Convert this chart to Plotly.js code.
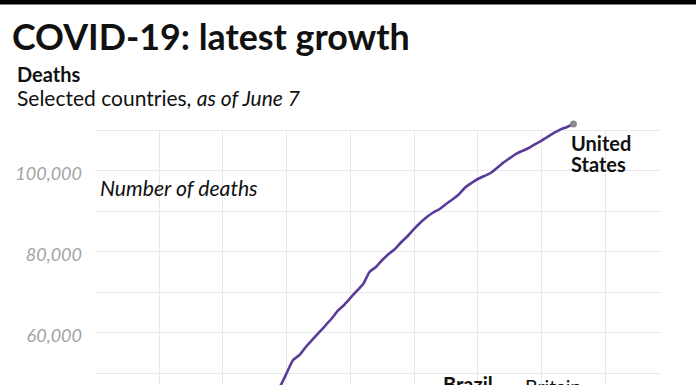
<!DOCTYPE html>
<html><head><meta charset="utf-8">
<script src="https://cdn.plot.ly/plotly-3.0.1.min.js"></script>
<style>html,body{margin:0;padding:0;background:#fff;overflow:hidden}#chart{width:696px;height:385px}</style>
</head><body><div id="chart"></div>
<script>
// ---- data ----
const dates = ["2020-04-21","2020-04-22","2020-04-23","2020-04-24","2020-04-25","2020-04-26","2020-04-27","2020-04-28","2020-04-29","2020-04-30",
 "2020-05-01","2020-05-02","2020-05-03","2020-05-04","2020-05-05","2020-05-06","2020-05-07","2020-05-08","2020-05-09","2020-05-10",
 "2020-05-11","2020-05-12","2020-05-13","2020-05-14","2020-05-15","2020-05-16","2020-05-17","2020-05-18","2020-05-19","2020-05-20",
 "2020-05-21","2020-05-22","2020-05-23","2020-05-24","2020-05-25","2020-05-26","2020-05-27","2020-05-28","2020-05-29","2020-05-30",
 "2020-05-31","2020-06-01","2020-06-02","2020-06-03","2020-06-04","2020-06-05","2020-06-06","2020-06-07"];
const usDeaths = [44600,46790,50000,53210,54440,56420,58150,59880,61600,63330,
 65310,66790,68520,70250,71980,74940,76170,77900,79380,80620,
 82350,83830,85560,87160,88520,89630,90490,91730,92840,94070,
 95800,96910,97900,98640,99380,100620,101950,103040,104120,104840,
 105560,106490,107380,108350,109330,110150,110740,111480];
const yTickVals = [40000,50000,60000,70000,80000,90000,100000,110000];
const yTickText = ["","","60,000","","80,000","","100,000",""];
const seriesLabel = ["United","States"];
const offscreenLabels = ["Brazil","Britain"];

// ---- layout helpers (pixels of the 696x385 page) ----
const L=95, R=660, T=120, GRIDTOP=130, B=385;
const PXPER10K = 40.5;
const yTop = 110000 + (GRIDTOP-T)/PXPER10K*10000;
const yBot = 110000 - (B-GRIDTOP)/PXPER10K*10000;
const px = x => (x-L)/(R-L);
const py = y => (B-y)/(B-T);
const FONT = "Lato, 'Noto Sans', sans-serif";
const GRID = '#e8e8e8';

const traces = [
 {x: dates, y: usDeaths, type:'scatter', mode:'lines',
  line:{color:'#5a3c98', width:2.6, shape:'spline', smoothing:0.6}, hoverinfo:'skip'},
 {x: [dates[dates.length-1]], y:[usDeaths[usDeaths.length-1]], type:'scatter', mode:'markers', cliponaxis:false,
  marker:{color:'#8a8a8a', size:7}, hoverinfo:'skip'}
];

const ann = [
 {text:'COVID-19: latest growth', x:px(11), y:py(36), xanchor:'left', yanchor:'middle', font:{family:FONT, size:35.8, color:'#111', weight:700}},
 {text:'Deaths', x:px(16), y:py(74), xanchor:'left', yanchor:'middle', font:{family:FONT, size:20, color:'#111', weight:700}},
 {text:'Selected countries, <i>as of June 7</i>', x:px(16), y:py(97.5), xanchor:'left', yanchor:'middle', font:{family:FONT, size:21, color:'#111'}},
 {text:'Number of deaths', x:px(99), y:py(187.5), xanchor:'left', yanchor:'middle', font:{family:FONT, size:21.2, color:'#111', style:'italic'}},
 {text:seriesLabel[0], x:px(570), y:py(142.5), xanchor:'left', yanchor:'middle', font:{family:FONT, size:20, color:'#111', weight:700}},
 {text:seriesLabel[1], x:px(570), y:py(164), xanchor:'left', yanchor:'middle', font:{family:FONT, size:20, color:'#111', weight:700}},
 {text:offscreenLabels[0], x:px(442), y:py(383.5), xanchor:'left', yanchor:'middle', font:{family:FONT, size:20, color:'#111', weight:700}},
 {text:offscreenLabels[1], x:px(524), y:py(386.5), xanchor:'left', yanchor:'middle', font:{family:FONT, size:19.5, color:'#111'}}
].map(a => Object.assign({xref:'paper', yref:'paper', showarrow:false, borderpad:0}, a));

const layout = {
 width:696, height:385,
 margin:{l:L, r:696-R, t:T, b:0, pad:0},
 paper_bgcolor:'#fff', plot_bgcolor:'#fff',
 showlegend:false,
 // vertical grid drawn as long inside ticks so it stops at the 110,000 line
 xaxis:{type:'date', range:['2020-03-23 22:00','2020-06-20 14:00'], tick0:'2020-03-24', dtick:864000000,
  showgrid:false, zeroline:false, showline:false, showticklabels:false,
  ticks:'inside', ticklen:B-GRIDTOP, tickwidth:1, tickcolor:GRID, layer:'below traces'},
 yaxis:{range:[yBot, yTop], tickvals:yTickVals, ticktext:yTickText,
  showgrid:true, gridcolor:GRID, gridwidth:1, zeroline:false, showline:false, ticks:'',
  ticklabelstandoff:12, ticklabelshift:3,
  tickfont:{family:FONT, size:18, color:'#a3a3a3', style:'italic'}},
 shapes:[
  {type:'rect', xref:'paper', yref:'paper', x0:px(0), x1:px(696), y0:py(4.5), y1:py(0), fillcolor:'#000', line:{width:0}, layer:'above'}
 ],
 annotations: ann
};
Plotly.newPlot('chart', traces, layout, {staticPlot:true, displayModeBar:false});
</script></body></html>
